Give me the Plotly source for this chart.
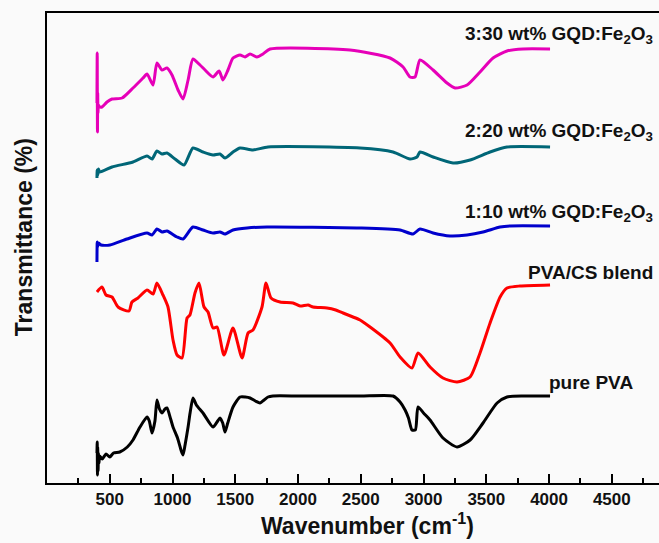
import plotly.graph_objects as go

# ---- data (wavenumber in cm^-1, transmittance in arbitrary offset units) ----
pva_wn = [398, 400, 402, 404, 407, 410, 414, 420, 440, 470, 500, 530, 580, 640, 685, 741, 797, 815, 837, 860, 876, 896, 916, 940, 956, 985, 1004, 1040, 1070, 1084, 1100, 1124, 1140, 1163, 1190, 1243, 1323, 1360, 1378, 1400, 1418, 1440, 1482, 1538, 1580, 1618, 1660, 1697, 1730, 1761, 1800, 2000, 2200, 2500, 2757, 2813, 2853, 2880, 2908, 2935, 2956, 3000, 3052, 3155, 3267, 3371, 3474, 3586, 3665, 3800, 4008]
pva_t = [30, 41, 8, 36, 12, 30, 20, 27, 24, 29, 26, 30, 31, 36, 43, 56, 66, 62, 50, 62, 83, 74, 70, 74, 75, 64, 56, 45, 32, 28, 38, 56, 70, 85, 78, 70, 56, 62, 65, 60, 51, 60, 76, 86, 86, 85, 82, 80, 83, 86, 87, 87, 87, 87, 87, 81, 73, 65, 53, 53, 76, 70, 63, 45, 36, 43, 60, 80, 86, 87, 87]

blend_wn = [398, 438, 470, 518, 566, 653, 677, 725, 797, 845, 876, 924, 964, 1004, 1036, 1076, 1116, 1139, 1179, 1211, 1251, 1283, 1323, 1355, 1410, 1482, 1554, 1602, 1641, 1713, 1745, 1785, 1857, 1960, 2016, 2080, 2120, 2231, 2300, 2359, 2438, 2494, 2574, 2733, 2813, 2908, 2956, 3052, 3155, 3267, 3371, 3450, 3530, 3610, 3665, 3769, 4008]
blend_t = [191, 196, 188, 186, 176, 172, 181, 185, 193, 189, 200, 188, 176, 143, 128, 125, 165, 168, 190, 200, 176, 171, 155, 156, 128, 155, 125, 150, 153, 176, 200, 185, 181, 180, 177, 178, 176, 175, 173, 170, 166, 163, 156, 140, 126, 115, 130, 116, 105, 101, 106, 130, 160, 186, 195, 197, 198]

g10_wn = [398, 400, 403, 410, 430, 502, 637, 797, 837, 876, 916, 956, 1036, 1084, 1163, 1243, 1323, 1378, 1418, 1482, 1594, 1753, 2494, 2813, 2916, 2972, 3076, 3211, 3347, 3474, 3610, 3689, 4008]
g10_t = [221, 241, 236, 240, 238, 238, 244, 250, 248, 254, 251, 252, 246, 244, 256, 253, 250, 251, 249, 253, 255, 256, 255, 253, 249, 254, 250, 247, 248, 251, 256, 257, 257]

g20_wn = [398, 400, 405, 410, 420, 518, 685, 797, 837, 876, 916, 956, 1020, 1092, 1163, 1243, 1323, 1378, 1418, 1482, 1538, 1641, 1761, 2494, 2757, 2892, 2948, 2972, 3076, 3235, 3371, 3530, 3665, 4008]
g20_t = [305, 313, 308, 314, 311, 316, 321, 327, 324, 332, 329, 330, 324, 318, 335, 331, 328, 329, 325, 331, 335, 333, 336, 335, 331, 324, 326, 331, 326, 320, 323, 331, 336, 336]

g30_wn = [398, 400, 402, 404, 406, 410, 420, 438, 478, 518, 598, 685, 765, 797, 845, 876, 916, 956, 996, 1044, 1084, 1124, 1163, 1219, 1259, 1323, 1371, 1402, 1442, 1482, 1538, 1578, 1618, 1673, 1721, 1777, 2414, 2733, 2837, 2892, 2932, 2972, 3076, 3187, 3251, 3347, 3450, 3554, 3665, 3793, 4008]
g30_t = [380, 430, 351, 390, 370, 378, 376, 376, 381, 384, 385, 395, 405, 409, 398, 420, 413, 415, 408, 393, 384, 403, 424, 418, 413, 406, 412, 403, 413, 425, 428, 426, 429, 426, 429, 434, 433, 425, 416, 406, 406, 423, 413, 400, 395, 398, 411, 425, 432, 434, 434]

series = [
    (pva_wn, pva_t, "#000000", "pure PVA"),
    (blend_wn, blend_t, "#ff0000", "PVA/CS blend"),
    (g10_wn, g10_t, "#0000cc", "1:10 wt% GQD:Fe2O3"),
    (g20_wn, g20_t, "#006677", "2:20 wt% GQD:Fe2O3"),
    (g30_wn, g30_t, "#e600b8", "3:30 wt% GQD:Fe2O3"),
]

labels = ["3:30 wt% GQD:Fe<sub>2</sub>O<sub>3</sub>",
          "2:20 wt% GQD:Fe<sub>2</sub>O<sub>3</sub>",
          "1:10 wt% GQD:Fe<sub>2</sub>O<sub>3</sub>",
          "PVA/CS blend",
          "pure PVA"]
label_x = [3315, 3315, 3315, 3817, 3984]
label_y = [448, 351, 270, 211, 101]

tick_vals = [500, 1000, 1500, 2000, 2500, 3000, 3500, 4000, 4500]

FONT = "Liberation Sans, Arial, sans-serif"

fig = go.Figure()
for wn, t, col, name in series:
    fig.add_trace(go.Scatter(x=wn, y=t, mode="lines", name=name,
                             line=dict(color=col, width=3, shape="spline", smoothing=0.6),
                             showlegend=False))

for txt, lx, ly in zip(labels, label_x, label_y):
    fig.add_annotation(x=lx, y=ly, xref="x", yref="y", text="<b>" + txt + "</b>",
                       showarrow=False, xanchor="left", yanchor="middle",
                       font=dict(family=FONT, size=19, color="#111111"))

fig.add_annotation(x=0.523, y=-0.087, xref="paper", yref="paper",
                   text="<b>Wavenumber (cm<sup>-1</sup>)</b>", showarrow=False,
                   xanchor="center", yanchor="middle",
                   font=dict(family=FONT, size=23, color="#111111"))
fig.add_annotation(x=-0.0376, y=0.523, xref="paper", yref="paper",
                   text="<b>Transmittance (%)</b>", showarrow=False, textangle=-90,
                   xanchor="center", yanchor="middle",
                   font=dict(family=FONT, size=23, color="#111111"))

fig.update_layout(
    width=659, height=543,
    margin=dict(l=47, r=0, t=13, b=60),
    paper_bgcolor="#fafafa", plot_bgcolor="#fafafa",
    xaxis=dict(range=[0, 4876], showline=True, linecolor="black", linewidth=2,
               mirror=True, showgrid=False, zeroline=False,
               tickvals=tick_vals, ticks="inside", ticklen=9, tickwidth=1.5,
               tickcolor="black",
               tickfont=dict(family=FONT, size=17, color="#111111", weight="bold"),
               minor=dict(dtick=250, tick0=0, ticks="inside", ticklen=5,
                          tickwidth=1.5, tickcolor="black", showgrid=False)),
    yaxis=dict(range=[0, 470], showline=True, linecolor="black", linewidth=2,
               showgrid=False, zeroline=False, showticklabels=False, ticks=""),
)

fig.write_html("out.html")
